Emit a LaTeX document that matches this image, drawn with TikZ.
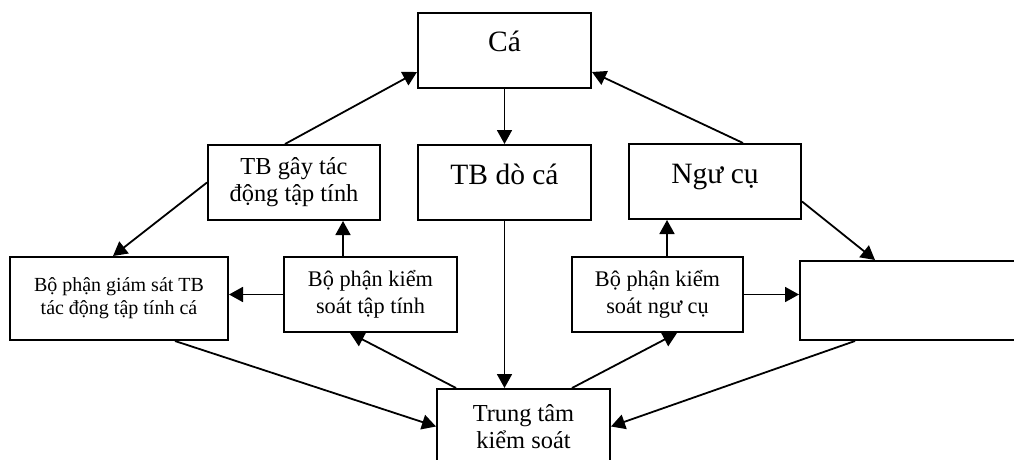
\documentclass[tikz,border=0pt]{standalone}
\usepackage{fontspec}
\setmainfont{Liberation Serif}
\usetikzlibrary{arrows.meta}
\tikzset{
  box/.style={draw, line width=2pt, inner sep=0pt, align=center,
    minimum width=173pt, minimum height=75pt},
  big/.style={font=\fontsize{29.5}{33}\selectfont, text height=18pt, text depth=15pt},
  mid/.style={font=\fontsize{24.4}{27}\selectfont},
  ks/.style={font=\fontsize{22.3}{27}\selectfont},
  small/.style={font=\fontsize{20}{23}\selectfont},
  arr/.style={-{Triangle[length=14pt,width=15pt]}, line width=1.8pt},
}
\begin{document}
\begin{tikzpicture}[x=1pt,y=-1pt]
\useasboundingbox (0,0) rectangle (1014,460);
% boxes
\node[box, big] (ca) at (504.5,50.5) {Cá};
\node[box, big] (doca) at (504.5,182.5) {TB dò cá};
\node[box, big, minimum width=172pt] (ngucu) at (715,181.5) {Ngư cụ};
\node[box, mid, minimum width=172pt] (tacdong) at (294,182.5) {TB gây tác\\động tập tính};
\node[box, small, minimum width=218pt, minimum height=83pt] (giamsat) at (119,298.5) {Bộ phận giám sát TB\\tác động tập tính cá};
\node[box, ks] (kstaptinh) at (370.5,294.5) {Bộ phận kiểm\\soát tập tính};
\node[box, ks, minimum width=171pt] (ksngucu) at (657.5,294.5) {Bộ phận kiểm\\soát ngư cụ};
\node[box, minimum width=230pt, minimum height=79pt] (trong) at (915,300.5) {};
\node[box, mid] (trungtam) at (523.5,426.5) {Trung tâm\\kiểm soát};
% connectors
\draw[arr] ([xshift=-9pt]tacdong.north) -- ([yshift=-21.5pt]ca.west);
\draw[arr] (ca.south) -- (doca.north);
\draw[arr] ([xshift=28pt]ngucu.north) -- ([yshift=-21.5pt]ca.east);
\draw[arr] (tacdong.west) -- ([xshift=-6pt]giamsat.north);
\draw[arr] ([xshift=-27.5pt]kstaptinh.north) -- ([xshift=49pt]tacdong.south);
\draw[arr] (kstaptinh.west) -- (kstaptinh.west -| giamsat.east);
\draw[arr] ([yshift=-20pt]ngucu.east) -- ([xshift=-40pt]trong.north);
\draw[arr] ([xshift=9.5pt]ksngucu.north) -- ([xshift=-48pt]ngucu.south);
\draw[arr] (ksngucu.east) -- (ksngucu.east -| trong.west);
\draw[arr] ([xshift=56pt]giamsat.south) -- (trungtam.west);
\draw[arr] ([xshift=-67.5pt]trungtam.north) -- ([xshift=-20.5pt]kstaptinh.south);
\draw[arr] (doca.south) -- (doca.south |- trungtam.north);
\draw[arr] ([xshift=48.5pt]trungtam.north) -- ([xshift=19.5pt]ksngucu.south);
\draw[arr] ([xshift=-60pt]trong.south) -- (trungtam.east);
\end{tikzpicture}
\end{document}
